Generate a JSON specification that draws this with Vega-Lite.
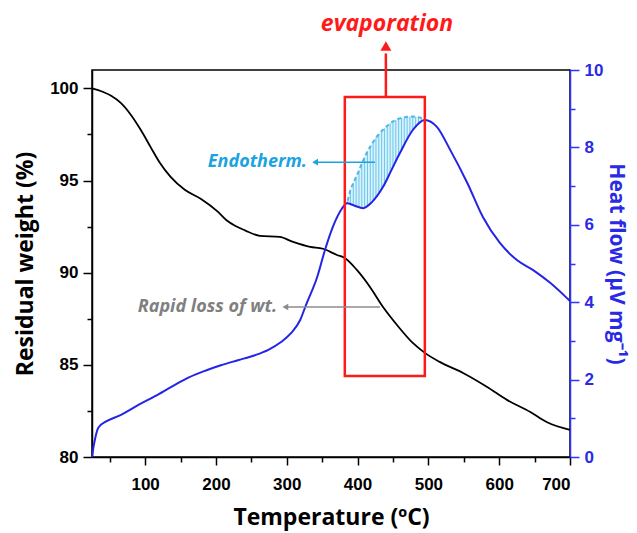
{
  "$schema": "https://vega.github.io/schema/vega-lite/v6.json",
  "width": 478,
  "height": 387,
  "autosize": "none",
  "padding": {"left": 92, "top": 70, "right": 67, "bottom": 76},
  "background": "white",
  "config": {
    "view": {"stroke": "black", "strokeWidth": 1.5},
    "axis": {"grid": false, "labelFont": "Liberation Sans", "labelFontWeight": "bold", "labelFontSize": 17, "titleFont": "Open Sans", "titleFontWeight": "bold", "titleFontSize": 23, "domainWidth": 1.5, "tickWidth": 1.5}
  },
  "datasets": {
    "weight": [
      {"T": 25, "W": 100.0}, {"T": 40, "W": 99.82}, {"T": 52, "W": 99.6}, {"T": 66, "W": 99.2},
      {"T": 80, "W": 98.56}, {"T": 94, "W": 97.74}, {"T": 108, "W": 96.8}, {"T": 121, "W": 95.95},
      {"T": 136, "W": 95.2}, {"T": 156, "W": 94.5}, {"T": 179, "W": 94.0}, {"T": 203, "W": 93.3},
      {"T": 215, "W": 92.85}, {"T": 227, "W": 92.55}, {"T": 241, "W": 92.3}, {"T": 262, "W": 92.0},
      {"T": 290, "W": 91.94}, {"T": 309, "W": 91.67}, {"T": 333, "W": 91.4}, {"T": 351, "W": 91.3},
      {"T": 371, "W": 90.96}, {"T": 382, "W": 90.8}, {"T": 399, "W": 90.15}, {"T": 418, "W": 89.2},
      {"T": 436, "W": 88.14}, {"T": 456, "W": 87.15}, {"T": 478, "W": 86.19}, {"T": 495, "W": 85.65},
      {"T": 516, "W": 85.16}, {"T": 549, "W": 84.56}, {"T": 583, "W": 83.8}, {"T": 611, "W": 83.1},
      {"T": 644, "W": 82.44}, {"T": 667, "W": 81.9}, {"T": 700, "W": 81.47}
    ],
    "heat": [
      {"T": 25, "H": 0}, {"T": 27, "H": 0.25}, {"T": 29, "H": 0.44}, {"T": 33, "H": 0.72},
      {"T": 38, "H": 0.84}, {"T": 43, "H": 0.9}, {"T": 66, "H": 1.09}, {"T": 90, "H": 1.34},
      {"T": 114, "H": 1.57}, {"T": 137, "H": 1.81}, {"T": 161, "H": 2.05}, {"T": 185, "H": 2.23},
      {"T": 207, "H": 2.37}, {"T": 231, "H": 2.5}, {"T": 255, "H": 2.63}, {"T": 274, "H": 2.77},
      {"T": 292, "H": 2.97}, {"T": 306, "H": 3.2}, {"T": 319, "H": 3.54}, {"T": 327, "H": 3.92},
      {"T": 343, "H": 4.65}, {"T": 354, "H": 5.35}, {"T": 365, "H": 5.94}, {"T": 378, "H": 6.42},
      {"T": 385, "H": 6.56}, {"T": 395, "H": 6.5}, {"T": 408, "H": 6.43}, {"T": 420, "H": 6.58},
      {"T": 436, "H": 6.98}, {"T": 448, "H": 7.42}, {"T": 460, "H": 7.86}, {"T": 478, "H": 8.45},
      {"T": 495, "H": 8.71}, {"T": 512, "H": 8.53}, {"T": 531, "H": 7.93}, {"T": 555, "H": 7.08},
      {"T": 577, "H": 6.2}, {"T": 601, "H": 5.53}, {"T": 625, "H": 5.09}, {"T": 648, "H": 4.83},
      {"T": 672, "H": 4.5}, {"T": 696, "H": 4.1}, {"T": 700, "H": 4.03}
    ],
    "endo": [
      {"T": 386, "lo": 6.55, "hi": 6.62}, {"T": 390, "lo": 6.53, "hi": 6.9}, {"T": 394, "lo": 6.51, "hi": 7.08},
      {"T": 398, "lo": 6.48, "hi": 7.24}, {"T": 402, "lo": 6.45, "hi": 7.4}, {"T": 406, "lo": 6.43, "hi": 7.58},
      {"T": 410, "lo": 6.44, "hi": 7.74}, {"T": 414, "lo": 6.48, "hi": 7.9}, {"T": 418, "lo": 6.55, "hi": 8.02},
      {"T": 422, "lo": 6.62, "hi": 8.14}, {"T": 426, "lo": 6.7, "hi": 8.25}, {"T": 430, "lo": 6.8, "hi": 8.34},
      {"T": 434, "lo": 6.92, "hi": 8.42}, {"T": 438, "lo": 7.05, "hi": 8.49}, {"T": 442, "lo": 7.2, "hi": 8.56},
      {"T": 446, "lo": 7.35, "hi": 8.62}, {"T": 450, "lo": 7.5, "hi": 8.67}, {"T": 454, "lo": 7.64, "hi": 8.71},
      {"T": 458, "lo": 7.79, "hi": 8.74}, {"T": 462, "lo": 7.93, "hi": 8.76}, {"T": 466, "lo": 8.06, "hi": 8.78},
      {"T": 470, "lo": 8.2, "hi": 8.79}, {"T": 474, "lo": 8.33, "hi": 8.8}, {"T": 478, "lo": 8.45, "hi": 8.8},
      {"T": 482, "lo": 8.55, "hi": 8.79}, {"T": 486, "lo": 8.62, "hi": 8.78}, {"T": 490, "lo": 8.67, "hi": 8.76},
      {"T": 494, "lo": 8.71, "hi": 8.72}
    ]
  },
  "encoding": {
    "x": {
      "field": "T", "type": "quantitative",
      "scale": {"domain": [25, 700], "nice": false, "zero": false},
      "axis": {
        "title": "Temperature (ºC)",
        "values": [50, 100, 150, 200, 250, 300, 350, 400, 450, 500, 550, 600, 650, 700],
        "labelExpr": "datum.value % 100 === 0 ? datum.label : ''",
        "tickSize": {"condition": {"test": "datum.value % 100 === 0", "value": 8}, "value": 5},
        "labelPadding": 11,
        "titlePadding": 14,
        "domainColor": "black", "tickColor": "black", "labelColor": "black", "titleColor": "black"
      }
    }
  },
  "resolve": {"scale": {"y": "independent"}},
  "layer": [
    {
      "data": {"name": "endo"},
      "mark": {"type": "area", "color": "#d6f1fb", "opacity": 0.9, "interpolate": "monotone"},
      "encoding": {
        "y": {"field": "lo", "type": "quantitative", "scale": {"domain": [0, 10], "nice": false}, "axis": null},
        "y2": {"field": "hi"}
      }
    },
    {
      "data": {"name": "endo"},
      "mark": {"type": "rule", "color": "#5cc3ec", "strokeWidth": 0.9},
      "encoding": {
        "y": {"field": "lo", "type": "quantitative", "scale": {"domain": [0, 10], "nice": false}, "axis": null},
        "y2": {"field": "hi"}
      }
    },
    {
      "data": {"name": "endo"},
      "mark": {"type": "line", "color": "#4fb8e6", "strokeWidth": 2, "strokeDash": [4, 3], "interpolate": "monotone"},
      "encoding": {
        "y": {"field": "hi", "type": "quantitative", "scale": {"domain": [0, 10], "nice": false}, "axis": null}
      }
    },
    {
      "data": {"name": "weight"},
      "mark": {"type": "line", "color": "black", "strokeWidth": 1.8, "interpolate": "monotone"},
      "encoding": {
        "y": {
          "field": "W", "type": "quantitative",
          "scale": {"domain": [80, 101], "nice": false, "zero": false},
          "axis": {
            "orient": "left", "title": "Residual weight (%)",
            "values": [80, 82.5, 85, 87.5, 90, 92.5, 95, 97.5, 100],
            "labelExpr": "datum.value % 5 === 0 ? datum.label : ''",
            "tickSize": {"condition": {"test": "datum.value % 5 === 0", "value": 9}, "value": 5},
            "labelPadding": 5, "titlePadding": 12,
            "domainColor": "black", "tickColor": "black", "labelColor": "black", "titleColor": "black"
          }
        }
      }
    },
    {
      "data": {"name": "heat"},
      "mark": {"type": "line", "color": "#2424e6", "strokeWidth": 2, "interpolate": "monotone"},
      "encoding": {
        "y": {
          "field": "H", "type": "quantitative",
          "scale": {"domain": [0, 10], "nice": false},
          "axis": {
            "orient": "right", "title": "Heat flow (µV mg⁻¹)",
            "values": [0, 1, 2, 3, 4, 5, 6, 7, 8, 9, 10],
            "labelExpr": "datum.value % 2 === 0 ? datum.label : ''",
            "tickSize": {"condition": {"test": "datum.value % 2 === 0", "value": 9}, "value": 5},
            "labelPadding": 5, "titlePadding": 3, "titleFontSize": 21,
            "domainColor": "#3333ff", "tickColor": "#3333ff", "labelColor": "#2a2ae6", "titleColor": "#2a2ae6"
          }
        }
      }
    },
    {
      "data": {"values": [{"T": 382, "T2": 495, "W": 84.4, "W2": 99.54}]},
      "mark": {"type": "rect", "fill": null, "fillOpacity": 0, "stroke": "#ff1a1a", "strokeWidth": 2.5},
      "encoding": {
        "x2": {"field": "T2"},
        "y": {"field": "W", "type": "quantitative", "scale": {"domain": [80, 101], "nice": false, "zero": false}, "axis": null},
        "y2": {"field": "W2"}
      }
    },
    {
      "data": {"values": [{"T": 440, "W": 99.54, "W2": 101.9}]},
      "mark": {"type": "rule", "color": "#ff1a1a", "strokeWidth": 2.5},
      "encoding": {
        "y": {"field": "W", "type": "quantitative", "scale": {"domain": [80, 101], "nice": false, "zero": false}, "axis": null},
        "y2": {"field": "W2"}
      }
    },
    {
      "data": {"values": [{"T": 440, "W": 102.3}]},
      "mark": {"type": "point", "shape": "triangle-up", "filled": true, "color": "#ff1a1a", "size": 120, "opacity": 1},
      "encoding": {
        "y": {"field": "W", "type": "quantitative", "scale": {"domain": [80, 101], "nice": false, "zero": false}, "axis": null}
      }
    },
    {
      "data": {"values": [{"T": 441.6, "W": 103.5, "label": "evaporation"}]},
      "mark": {"type": "text", "color": "#ff1a1a", "font": "Open Sans", "fontWeight": "bold", "fontStyle": "italic", "fontSize": 23, "align": "center", "baseline": "middle"},
      "encoding": {
        "y": {"field": "W", "type": "quantitative", "scale": {"domain": [80, 101], "nice": false, "zero": false}, "axis": null},
        "text": {"field": "label"}
      }
    },
    {
      "data": {"values": [{"T": 340, "T2": 424.6, "W": 96.0}]},
      "mark": {"type": "rule", "color": "#1aa3e0", "strokeWidth": 1.5},
      "encoding": {
        "x2": {"field": "T2"},
        "y": {"field": "W", "type": "quantitative", "scale": {"domain": [80, 101], "nice": false, "zero": false}, "axis": null}
      }
    },
    {
      "data": {"values": [{"T": 340, "W": 96.0}]},
      "mark": {"type": "point", "shape": "triangle-left", "filled": true, "color": "#1aa3e0", "size": 45, "opacity": 1},
      "encoding": {
        "y": {"field": "W", "type": "quantitative", "scale": {"domain": [80, 101], "nice": false, "zero": false}, "axis": null}
      }
    },
    {
      "data": {"values": [{"T": 328.6, "W": 96.0, "label": "Endotherm."}]},
      "mark": {"type": "text", "color": "#1aa3e0", "font": "Open Sans", "fontWeight": "bold", "fontStyle": "italic", "fontSize": 18, "align": "right", "baseline": "middle"},
      "encoding": {
        "y": {"field": "W", "type": "quantitative", "scale": {"domain": [80, 101], "nice": false, "zero": false}, "axis": null},
        "text": {"field": "label"}
      }
    },
    {
      "data": {"values": [{"T": 298, "T2": 431.7, "W": 88.14}]},
      "mark": {"type": "rule", "color": "#8c8c8c", "strokeWidth": 1.5},
      "encoding": {
        "x2": {"field": "T2"},
        "y": {"field": "W", "type": "quantitative", "scale": {"domain": [80, 101], "nice": false, "zero": false}, "axis": null}
      }
    },
    {
      "data": {"values": [{"T": 298, "W": 88.14}]},
      "mark": {"type": "point", "shape": "triangle-left", "filled": true, "color": "#8c8c8c", "size": 45, "opacity": 1},
      "encoding": {
        "y": {"field": "W", "type": "quantitative", "scale": {"domain": [80, 101], "nice": false, "zero": false}, "axis": null}
      }
    },
    {
      "data": {"values": [{"T": 286.3, "W": 88.14, "label": "Rapid loss of wt."}]},
      "mark": {"type": "text", "color": "#808080", "font": "Open Sans", "fontWeight": "bold", "fontStyle": "italic", "fontSize": 18, "align": "right", "baseline": "middle"},
      "encoding": {
        "y": {"field": "W", "type": "quantitative", "scale": {"domain": [80, 101], "nice": false, "zero": false}, "axis": null},
        "text": {"field": "label"}
      }
    }
  ]
}
